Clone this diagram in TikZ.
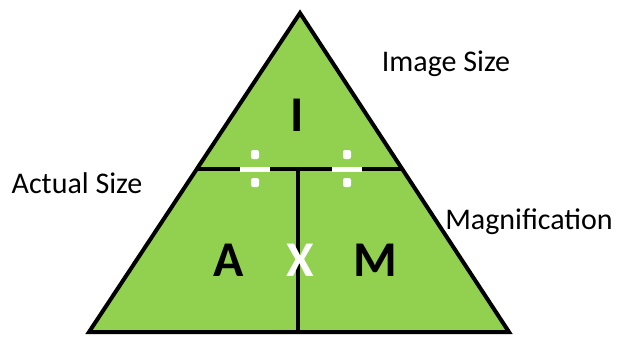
\documentclass[tikz,border=0pt]{standalone}
\usepackage{fontspec}
\setmainfont{Carlito}
\definecolor{trigreen}{HTML}{92D050}
\begin{document}
\begin{tikzpicture}[x=1pt,y=-1pt,
  edge/.style={line width=4pt,line join=miter},
  big/.style={font=\fontsize{50}{50}\selectfont\bfseries},
  lab/.style={font=\fontsize{30}{30}\selectfont}]
\useasboundingbox (0,0) rectangle (618,338);
\coordinate (top) at (300,13);
\coordinate (bl) at (89,332);
\coordinate (br) at (509,332);
\coordinate (ml) at (196,169);
\coordinate (mr) at (403,169);
\coordinate (mc) at (298,169);
\coordinate (bc) at (298,332);
\filldraw[fill=trigreen,edge] (top) -- (br) -- (bl) -- cycle;
\draw[edge] (ml) -- (mr);
\draw[edge] (mc) -- (bc);
% division signs
\foreach \n/\cx in {d1/255,d2/347}{
  \fill[white] (\cx-15,166.5) rectangle (\cx+15,171.5);
  \fill[white,rounded corners=2pt] (\cx-4,150) rectangle (\cx+4,159);
  \fill[white,rounded corners=2pt] (\cx-4,178) rectangle (\cx+4,187);
}
\node[big] (I) at (297,115) {I};
\node[big] (A) at (229,260) {A};
\node[big,text=white] (X) at (300,260) {X};
\node[big] (M) at (375,260) {M};
\node[lab] (img) at (446,64) {Image Size};
\node[lab] (act) at (77,183) {Actual Size};
\node[lab] (mag) at (529,222) {Magnification};
\end{tikzpicture}
\end{document}
